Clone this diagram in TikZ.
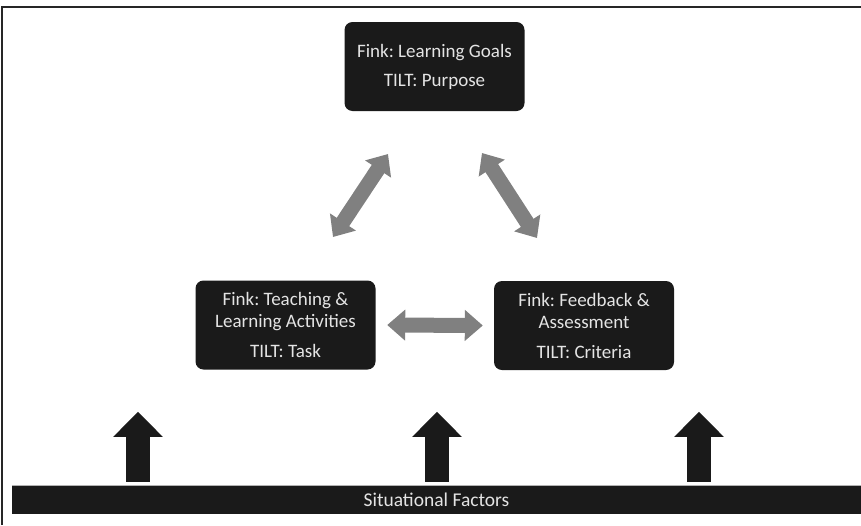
\documentclass[tikz,border=0pt]{standalone}
\usepackage{fontspec}
\setmainfont{Carlito}
\usepackage{tikz}
\usetikzlibrary{arrows.meta, positioning, calc}
\frenchspacing
\definecolor{cajita}{RGB}{26,26,26}
\definecolor{grisito}{RGB}{128,128,128}
\definecolor{letrita}{RGB}{228,228,228}
\tikzset{>=stealth}
\tikzset{
  stage/.style={fill=cajita, rounded corners=8pt, minimum width=180pt, minimum height=89pt, inner sep=0pt, text=letrita, align=center, font=\fontsize{19}{22}\selectfont},
  linkarrow/.style={grisito, line width=15pt, {Triangle[length=18pt,width=30pt]}-{Triangle[length=18pt,width=30pt]}},
  pusharrow/.style={cajita, line width=24pt, -{Triangle[length=25pt,width=48pt]}}
}

\begin{document}
\begin{tikzpicture}[x=1pt,y=-1pt]
  \useasboundingbox (0,0) rectangle (861,525);
  \draw [line width=1.5pt, black!85] (2,525) -- (2,7) -- (861,7);

  \node [stage] (goals) at (434.5,66.5) {Fink: Learning Goals\\[7pt]TILT: Purpose};
  \node [stage] (teach) at (285.5,325) {Fink: Teaching \&\\Learning Activities\\[8pt]TILT: Task};
  \node [stage] (assess) at (584,325.5) {Fink: Feedback \&\\Assessment\\[8pt]TILT: Criteria};

  \node [fill=cajita, minimum width=849pt, minimum height=28pt, inner sep=0pt, text=letrita, font=\fontsize{19.5}{22}\selectfont] (factors) at (436.5,500) {Situational Factors};
  \draw [black!30, line width=1pt] (factors.north west) -- (factors.north east);

  % ends of the slanted links
  \coordinate (teachup) at (333,237);
  \coordinate (goalsleft) at (388,154);
  \coordinate (goalsright) at (482,153);
  \coordinate (assessup) at (537,238);

  \draw [linkarrow] (teachup) -- (goalsleft);
  \draw [linkarrow] (goalsright) -- (assessup);
  \draw [linkarrow] ([xshift=11.5pt]teach.east) -- ([xshift=-11pt]assess.west);

  \foreach \dx in {-298.5,0.5,262.5}
    \draw [pusharrow] ([xshift=\dx pt, yshift=4pt]factors.north) -- ++(0,-70);
\end{tikzpicture}
\end{document}
